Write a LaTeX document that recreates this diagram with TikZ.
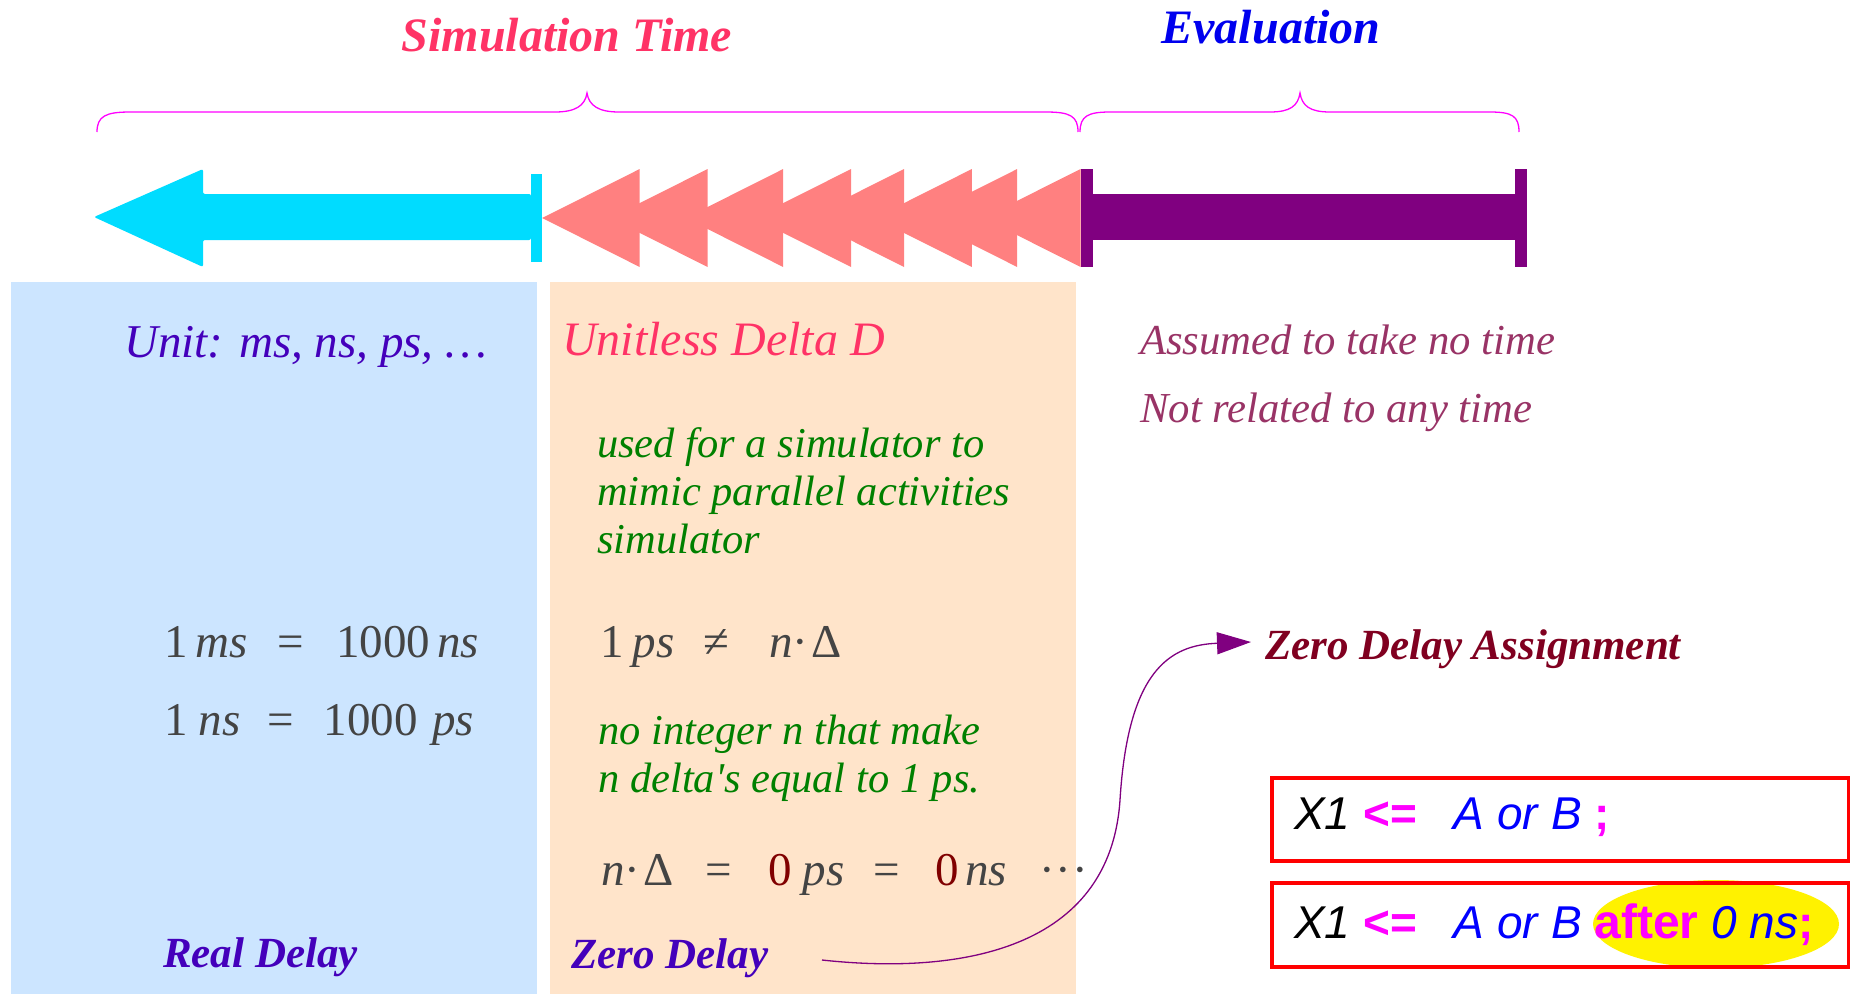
\documentclass[tikz,border=0pt]{standalone}
\usepackage{fontspec}
\setmainfont{Liberation Serif}[Ligatures=TeXOff]
\newfontfamily\codefont{Liberation Sans}
\usetikzlibrary{arrows.meta}
\definecolor{simred}{RGB}{255,51,102}
\definecolor{evalblue}{RGB}{0,0,238}
\definecolor{bracemag}{RGB}{255,0,255}
\definecolor{cyanarrow}{RGB}{0,220,255}
\definecolor{salmonarrow}{RGB}{255,128,128}
\definecolor{evalpurple}{RGB}{128,0,128}
\definecolor{panelblue}{RGB}{204,229,255}
\definecolor{panelorange}{RGB}{255,228,202}
\definecolor{indigotxt}{RGB}{68,0,187}
\definecolor{leafgreen}{RGB}{0,128,0}
\definecolor{plumtxt}{RGB}{153,51,102}
\definecolor{mathgray}{RGB}{68,68,68}
\definecolor{zerored}{RGB}{128,0,0}
\definecolor{maroontxt}{RGB}{128,0,32}
\definecolor{codemag}{RGB}{255,0,255}
\definecolor{codeblue}{RGB}{0,0,255}
\definecolor{codered}{RGB}{255,0,0}
\begin{document}
\begin{tikzpicture}[x=1pt,y=-1pt,
  txt/.style={inner sep=0pt, anchor=base west},
  title/.style={inner sep=0pt, anchor=base, font=\fontsize{48}{56}\selectfont\bfseries\itshape},
  head/.style={txt, font=\fontsize{47}{56}\selectfont\itshape},
  green/.style={txt, text=leafgreen, font=\fontsize{42.5}{48}\selectfont\itshape},
  plum/.style={txt, text=plumtxt, font=\fontsize{42.7}{48}\selectfont\itshape},
  mathline/.style={txt, text=mathgray, font=\fontsize{47}{56}\selectfont},
  delaylbl/.style={txt, font=\fontsize{43}{50}\selectfont\bfseries\itshape},
  codebox/.style={draw=codered, line width=3.5pt, inner sep=0pt},
  codetxt/.style={txt, font=\codefont\fontsize{46}{54}\selectfont},
  bracestyle/.style={draw=bracemag, line width=1.3pt},
  conn/.style={draw=evalpurple, line width=1.3pt, -{Triangle[length=34pt,width=22pt]}}
]
\useasboundingbox (0,0) rectangle (1851,994);
\fill[white] (0,0) rectangle (1851,994);

% panels
\fill[panelblue] (11,282) rectangle (537,994);
\fill[panelorange] (550,282) rectangle (1076,994);

% titles
\node[title, text=simred] (simtime) at (567,51) {Simulation Time};
\node[title, text=evalblue] (evaltitle) at (1271,43) {Evaluation};

% braces
\draw[bracestyle] (97,132) .. controls (97,116) and (106,112) .. (130,112) -- (555,112)
  .. controls (575,112) and (585,106) .. (587,93) .. controls (589,106) and (599,112) .. (619,112)
  -- (1046,112) .. controls (1070,112) and (1078,116) .. (1078,132);
\draw[bracestyle] (1080,132) .. controls (1080,116) and (1088,112) .. (1110,112) -- (1270,112)
  .. controls (1290,112) and (1298,106) .. (1300,93) .. controls (1302,106) and (1310,112) .. (1330,112)
  -- (1490,112) .. controls (1512,112) and (1519,116) .. (1519,132);

% cyan arrow
\fill[cyanarrow, rounded corners=2pt] (94,217) -- (203,169) -- (203,194) -- (531,194) -- (531,240) -- (203,240) -- (203,267) -- cycle;
\fill[cyanarrow] (531,174) rectangle (542,262);

% salmon arrowheads
\foreach \b in {639.7,707.6,783.2,851.1,904.0,971.9,1017.2,1080.5}
  \fill[salmonarrow] (\b,169) -- (\b-97.5,218) -- (\b,267) -- cycle;

% purple bar
\fill[evalpurple] (1080.5,194) rectangle (1527,240);
\fill[evalpurple] (1080.5,169) rectangle (1093,267);
\fill[evalpurple] (1515,169) rectangle (1527,267);

% left panel texts
\node[head, text=indigotxt] (unit) at (124,357) {Unit: ms, ns, ps, …};
\node[mathline] (eq1) at (164,657) {1\hspace{8pt}\textit{ms}\hspace{30pt}=\hspace{32pt}1000\hspace{7pt}\textit{ns}};
\node[mathline] (eq2) at (164,735) {1\hspace{11pt}\textit{ns}\hspace{27pt}=\hspace{30pt}1000\hspace{14pt}\textit{ps}};
\node[delaylbl, text=indigotxt] (realdelay) at (163,967) {Real Delay};

% middle panel texts
\node[head, text=simred, font=\fontsize{48}{56}\selectfont\itshape] (unitless) at (562,355) {Unitless Delta D};
\node[green] (g1) at (597,457) {used for a simulator to};
\node[green] (g2) at (597,505) {mimic parallel activities};
\node[green] (g3) at (597,553) {simulator};
\node[mathline] (neq) at (600,657) {1\hspace{9pt}\textit{ps}\hspace{29pt}≠\hspace{40pt}\textit{n}·\hspace{3pt}Δ};
\node[green] (g4) at (598,744) {no integer n that make};
\node[green] (g5) at (598,792) {n delta's equal to 1 ps.};
\node[mathline] (zeroeq) at (601,885) {\textit{n}·\hspace{3pt}Δ\hspace{32pt}=\hspace{36pt}{\color{zerored}0}\hspace{11pt}\textit{ps}\hspace{29pt}=\hspace{36pt}{\color{zerored}0}\hspace{6pt}\textit{ns}\hspace{32pt}·\hspace{1pt}·\hspace{1pt}·};
\node[delaylbl, text=indigotxt] (zerodelay) at (571,968) {Zero Delay};

% right side texts
\node[plum] (assumed) at (1140,354) {Assumed to take no time};
\node[plum] (notrel) at (1140,422) {Not related to any time};
\node[delaylbl, text=maroontxt] (zda) at (1265,659) {Zero Delay Assignment};

% connector
\coordinate (zdfrom) at (822,960);
\coordinate (zdto) at (1251,642);
\draw[conn] (zdfrom) .. controls (960,975) and (1110,950) .. (1120,800) .. controls (1128,670) and (1170,645) .. (zdto);

% code boxes
\node[codebox, minimum width=576.5pt, minimum height=83pt] (box1) at (1560.25,819.5) {};
\fill[yellow] (1716,924) ellipse [x radius=123pt, y radius=44pt];
\node[codebox, minimum width=576.5pt, minimum height=84pt] (box2) at (1560.25,925) {};
\node[codetxt] (code1) at (1294,829) {\textit{X1} {\bfseries\color{codemag}<=}\hspace{37pt}{\color{codeblue}\itshape A or B} {\bfseries\color{codemag};}};
\node[codetxt] (code2) at (1294,938) {\textit{X1} {\bfseries\color{codemag}<=}\hspace{37pt}{\color{codeblue}\itshape A or B} {\bfseries\color{codemag}\fontsize{48}{54}\selectfont after} {\color{codeblue}\itshape 0 ns}{\bfseries\color{codemag};}};
\end{tikzpicture}
\end{document}
